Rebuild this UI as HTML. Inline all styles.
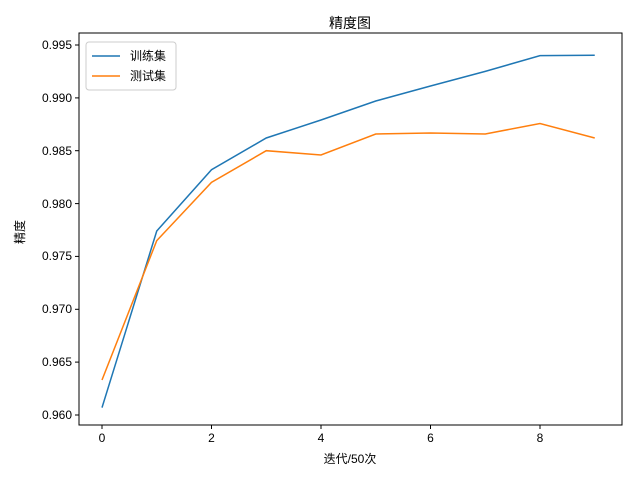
<!DOCTYPE html>
<html><head><style>body{margin:0;background:#fff}svg{display:block}text{font-family:"Liberation Sans","Noto Sans CJK SC",sans-serif;font-size:12px;fill:#000}</style></head>
<body>
<svg width="640" height="480" xmlns="http://www.w3.org/2000/svg">
<rect width="640" height="480" fill="#fff"/>
<text x="350" y="28" text-anchor="middle" style="font-size:14px">精度图</text>
<g stroke="#000" stroke-width="1">
<line x1="102" y1="425" x2="102" y2="429"/><line x1="211.5" y1="425" x2="211.5" y2="429"/><line x1="321" y1="425" x2="321" y2="429"/><line x1="430.5" y1="425" x2="430.5" y2="429"/><line x1="540" y1="425" x2="540" y2="429"/>
<line x1="75" y1="415" x2="79" y2="415"/><line x1="75" y1="362.1" x2="79" y2="362.1"/><line x1="75" y1="309.3" x2="79" y2="309.3"/><line x1="75" y1="256.4" x2="79" y2="256.4"/><line x1="75" y1="203.6" x2="79" y2="203.6"/><line x1="75" y1="150.7" x2="79" y2="150.7"/><line x1="75" y1="97.9" x2="79" y2="97.9"/><line x1="75" y1="45" x2="79" y2="45"/>
</g>
<g text-anchor="middle"><text x="102" y="442">0</text><text x="211.5" y="442">2</text><text x="321" y="442">4</text><text x="430.5" y="442">6</text><text x="540" y="442">8</text></g>
<g text-anchor="end"><text x="72" y="419">0.960</text><text x="72" y="366">0.965</text><text x="72" y="313">0.970</text><text x="72" y="260">0.975</text><text x="72" y="208">0.980</text><text x="72" y="155">0.985</text><text x="72" y="102">0.990</text><text x="72" y="49">0.995</text></g>
<text x="350" y="463" text-anchor="middle">迭代/50次</text>
<text transform="translate(24,232) rotate(-90)" text-anchor="middle">精度</text>
<polyline fill="none" stroke="#1f77b4" stroke-width="1.5" points="102,407.6 156.75,231 211.5,169.7 266.25,138 321,120 375.75,101 430.5,86 485.25,71.4 540,55.6 594.75,55.2"/>
<polyline fill="none" stroke="#ff7f0e" stroke-width="1.5" points="102,380 156.75,240.6 211.5,182.4 266.25,150.7 321,155 375.75,134 430.5,133 485.25,134 540,123.5 594.75,138"/>
<rect x="79" y="33" width="543" height="392" fill="none" stroke="#000" stroke-width="1"/>
<rect x="86" y="42" width="90" height="48" rx="3" fill="#fff" fill-opacity="0.8" stroke="#ccc"/>
<line x1="92" y1="56" x2="120" y2="56" stroke="#1f77b4" stroke-width="1.5"/>
<line x1="92" y1="76" x2="120" y2="76" stroke="#ff7f0e" stroke-width="1.5"/>
<text x="130" y="60">训练集</text><text x="130" y="80">测试集</text>
</svg>
</body></html>
